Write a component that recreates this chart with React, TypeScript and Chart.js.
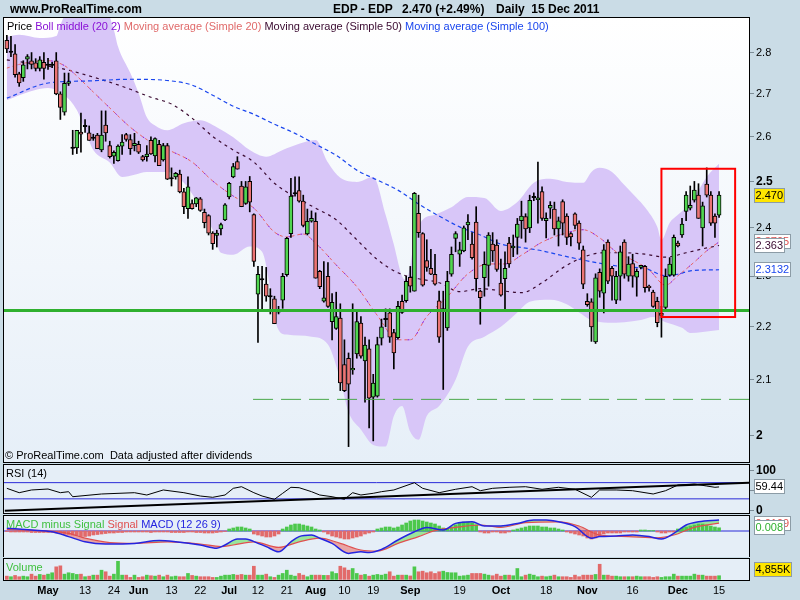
import React, { useEffect, useRef } from "react";
import { Chart, registerables } from "chart.js";

Chart.register(...registerables);

const FONT = '"Liberation Sans", Arial, Helvetica, sans-serif';

// x positions are trading-day indices, 0 = 2 May 2011
const FIRST_INDEX = -10;
const X_MIN = -10.69;
const X_MAX = 170.27;

const OPEN = [
  2.830, 2.802, 2.797, 2.748, 2.739, 2.784, 2.780, 2.775, 2.761, 2.776,
  2.770, 2.770, 2.780, 2.700, 2.657, 2.725, 2.575, 2.575, 2.611, 2.625,
  2.609, 2.598, 2.604, 2.570, 2.627, 2.580, 2.556, 2.546, 2.579, 2.605,
  2.594, 2.580, 2.583, 2.555, 2.555, 2.592, 2.557, 2.583, 2.548, 2.580,
  2.507, 2.510, 2.516, 2.477, 2.441, 2.452, 2.451, 2.462, 2.433, 2.426,
  2.389, 2.384, 2.398, 2.417, 2.466, 2.510, 2.544, 2.490, 2.452, 2.500,
  2.428, 2.264, 2.294, 2.284, 2.260, 2.255, 2.230, 2.252, 2.303, 2.388,
  2.474, 2.480, 2.457, 2.387, 2.414, 2.414, 2.310, 2.250, 2.300, 2.210,
  2.197, 2.217, 2.128, 2.140, 2.118, 2.148, 2.207, 2.135, 2.158, 2.068,
  2.070, 2.178, 2.215, 2.227, 2.189, 2.179, 2.250, 2.251, 2.298, 2.270,
  2.431, 2.388, 2.332, 2.316, 2.304, 2.251, 2.234, 2.198, 2.304, 2.378,
  2.345, 2.352, 2.406, 2.366, 2.412, 2.270, 2.297, 2.322, 2.366, 2.364,
  2.286, 2.295, 2.368, 2.358, 2.380, 2.415, 2.424, 2.400, 2.466, 2.460,
  2.478, 2.415, 2.442, 2.440, 2.398, 2.456, 2.425, 2.388, 2.430, 2.410,
  2.354, 2.250, 2.249, 2.171, 2.308, 2.266, 2.370, 2.316, 2.252, 2.300,
  2.370, 2.300, 2.326, 2.298, 2.318, 2.320, 2.280, 2.268, 2.250, 2.222,
  2.238, 2.302, 2.302, 2.368, 2.385, 2.435, 2.442, 2.459, 2.470, 2.400,
  2.494, 2.470, 2.425, 2.427,
];
const HIGH = [
  2.843, 2.840, 2.820, 2.752, 2.780, 2.795, 2.800, 2.785, 2.790, 2.800,
  2.786, 2.776, 2.800, 2.705, 2.750, 2.750, 2.615, 2.615, 2.655, 2.640,
  2.625, 2.606, 2.608, 2.660, 2.660, 2.590, 2.568, 2.582, 2.605, 2.608,
  2.605, 2.608, 2.590, 2.558, 2.580, 2.600, 2.598, 2.592, 2.585, 2.585,
  2.530, 2.520, 2.525, 2.485, 2.510, 2.460, 2.465, 2.465, 2.440, 2.428,
  2.392, 2.395, 2.410, 2.452, 2.498, 2.540, 2.555, 2.500, 2.500, 2.511,
  2.430, 2.320, 2.320, 2.318, 2.275, 2.260, 2.240, 2.306, 2.380, 2.507,
  2.510, 2.510, 2.470, 2.440, 2.436, 2.432, 2.312, 2.330, 2.328, 2.265,
  2.268, 2.245, 2.175, 2.150, 2.245, 2.234, 2.220, 2.180, 2.175, 2.110,
  2.180, 2.215, 2.235, 2.235, 2.195, 2.250, 2.262, 2.300, 2.320, 2.476,
  2.470, 2.390, 2.375, 2.355, 2.345, 2.270, 2.270, 2.310, 2.360, 2.392,
  2.370, 2.404, 2.428, 2.390, 2.445, 2.272, 2.350, 2.390, 2.390, 2.375,
  2.335, 2.350, 2.380, 2.385, 2.420, 2.457, 2.430, 2.470, 2.475, 2.543,
  2.488, 2.432, 2.456, 2.455, 2.423, 2.460, 2.430, 2.390, 2.432, 2.415,
  2.362, 2.265, 2.255, 2.305, 2.315, 2.365, 2.375, 2.320, 2.310, 2.362,
  2.375, 2.340, 2.345, 2.315, 2.322, 2.322, 2.282, 2.272, 2.258, 2.240,
  2.315, 2.338, 2.385, 2.372, 2.420, 2.478, 2.490, 2.500, 2.495, 2.455,
  2.530, 2.478, 2.430, 2.478,
];
const LOW = [
  2.800, 2.790, 2.740, 2.718, 2.730, 2.760, 2.760, 2.755, 2.755, 2.735,
  2.759, 2.763, 2.698, 2.640, 2.650, 2.720, 2.560, 2.562, 2.565, 2.610,
  2.592, 2.592, 2.573, 2.566, 2.590, 2.552, 2.540, 2.545, 2.560, 2.590,
  2.560, 2.568, 2.562, 2.545, 2.545, 2.560, 2.543, 2.535, 2.545, 2.504,
  2.490, 2.505, 2.475, 2.430, 2.420, 2.440, 2.445, 2.435, 2.400, 2.385,
  2.355, 2.360, 2.385, 2.415, 2.462, 2.508, 2.527, 2.445, 2.450, 2.434,
  2.320, 2.170, 2.230, 2.250, 2.225, 2.206, 2.225, 2.236, 2.300, 2.380,
  2.468, 2.455, 2.402, 2.385, 2.412, 2.296, 2.275, 2.248, 2.238, 2.175,
  2.195, 2.080, 2.078, 1.980, 2.110, 2.140, 2.140, 2.059, 2.013, 1.990,
  2.068, 2.165, 2.200, 2.170, 2.120, 2.176, 2.226, 2.248, 2.268, 2.270,
  2.380, 2.280, 2.310, 2.303, 2.282, 2.170, 2.082, 2.193, 2.300, 2.350,
  2.320, 2.350, 2.375, 2.335, 2.270, 2.205, 2.260, 2.280, 2.330, 2.310,
  2.260, 2.230, 2.318, 2.340, 2.345, 2.378, 2.370, 2.390, 2.458, 2.410,
  2.416, 2.379, 2.420, 2.385, 2.362, 2.385, 2.365, 2.362, 2.398, 2.355,
  2.275, 2.240, 2.172, 2.168, 2.258, 2.227, 2.285, 2.252, 2.245, 2.252,
  2.296, 2.290, 2.278, 2.260, 2.315, 2.268, 2.270, 2.238, 2.200, 2.180,
  2.232, 2.300, 2.300, 2.360, 2.380, 2.415, 2.438, 2.455, 2.420, 2.362,
  2.466, 2.405, 2.380, 2.422,
];
const CLOSE = [
  2.809, 2.802, 2.746, 2.726, 2.770, 2.790, 2.771, 2.761, 2.782, 2.761,
  2.770, 2.770, 2.700, 2.668, 2.725, 2.729, 2.575, 2.615, 2.606, 2.625,
  2.592, 2.598, 2.573, 2.604, 2.609, 2.555, 2.565, 2.579, 2.588, 2.594,
  2.573, 2.585, 2.565, 2.548, 2.561, 2.561, 2.596, 2.535, 2.580, 2.505,
  2.507, 2.518, 2.477, 2.445, 2.488, 2.441, 2.464, 2.437, 2.411, 2.389,
  2.367, 2.389, 2.407, 2.449, 2.496, 2.533, 2.527, 2.445, 2.488, 2.455,
  2.330, 2.304, 2.294, 2.260, 2.260, 2.206, 2.230, 2.300, 2.378, 2.468,
  2.474, 2.457, 2.405, 2.414, 2.420, 2.296, 2.279, 2.257, 2.240, 2.248,
  2.220, 2.094, 2.080, 2.092, 2.121, 2.210, 2.144, 2.165, 2.066, 2.094,
  2.166, 2.200, 2.215, 2.180, 2.150, 2.240, 2.228, 2.290, 2.280, 2.474,
  2.390, 2.282, 2.318, 2.304, 2.284, 2.180, 2.234, 2.290, 2.345, 2.388,
  2.354, 2.400, 2.412, 2.338, 2.295, 2.257, 2.324, 2.385, 2.352, 2.314,
  2.262, 2.316, 2.325, 2.362, 2.408, 2.425, 2.398, 2.459, 2.466, 2.464,
  2.420, 2.420, 2.448, 2.398, 2.415, 2.410, 2.380, 2.381, 2.405, 2.368,
  2.284, 2.243, 2.200, 2.297, 2.270, 2.354, 2.290, 2.300, 2.300, 2.350,
  2.304, 2.325, 2.300, 2.310, 2.322, 2.277, 2.277, 2.240, 2.208, 2.226,
  2.300, 2.325, 2.380, 2.362, 2.408, 2.470, 2.448, 2.481, 2.420, 2.447,
  2.470, 2.410, 2.410, 2.470,
];
// volume in thousands of shares
const VOLUME_K = [
  4320, 3540, 5240, 3540, 4320, 3540, 6940, 4320, 6550, 5630,
  6940, 8780, 16640, 17950, 6940, 8780, 7860, 6550, 6940, 3540,
  4320, 5630, 5630, 12180, 10090, 4320, 6940, 23970, 5630, 5630,
  2620, 5630, 2620, 3540, 5630, 4850, 4320, 5630, 3540, 5630,
  3540, 4320, 3540, 3540, 7860, 5240, 4320, 3540, 3540, 3540,
  2620, 2620, 4320, 5630, 5630, 6550, 5630, 6550, 5630, 5630,
  17420, 5630, 5630, 6940, 3540, 2620, 5630, 7860, 12180, 5630,
  4320, 7860, 5630, 3540, 5630, 5630, 5630, 5300, 5300, 10090,
  7860, 17420, 15330, 12180, 14410, 7860, 5630, 6550, 4320, 5630,
  6550, 5630, 6940, 10090, 4320, 5630, 5630, 5630, 4590, 16640,
  10090, 10870, 8780, 10090, 7860, 10090, 10870, 9170, 8780, 8780,
  4320, 4850, 5630, 7860, 7860, 7860, 6940, 5630, 4850, 6940,
  4320, 5630, 5630, 4850, 14410, 3540, 5630, 6940, 5630, 3540,
  4320, 3540, 4320, 5630, 3540, 3540, 3540, 2620, 5630, 3540,
  5630, 5630, 5630, 6550, 20040, 5630, 5630, 4320, 4320, 3540,
  3540, 3540, 3540, 4320, 3540, 3540, 3540, 2620, 3540, 2620,
  3540, 3540, 6940, 4320, 4320, 4320, 4320, 6940, 5630, 5630,
  4320, 4320, 4320, 4855,
];

// moving averages and Bollinger band (read at selected days)
const SMA20_IDX = [-10, -7, -4, 0, 4, 6, 10, 15, 20, 25, 30, 35, 40, 45, 50, 55, 58, 62, 65, 70, 75, 80, 85, 88, 92, 97, 102, 107, 111, 115, 120, 125, 130, 134, 138, 142, 146, 150, 153, 157, 160, 163];
const SMA20 = [2.762, 2.771, 2.777, 2.780, 2.768, 2.752, 2.714, 2.667, 2.622, 2.588, 2.567, 2.543, 2.501, 2.468, 2.442, 2.391, 2.381, 2.387, 2.368, 2.323, 2.279, 2.222, 2.175, 2.175, 2.220, 2.259, 2.305, 2.325, 2.325, 2.343, 2.370, 2.387, 2.396, 2.379, 2.350, 2.333, 2.313, 2.282, 2.301, 2.329, 2.352, 2.3705];
const SMA50_IDX = [-10, 0, 5, 10, 15, 20, 25, 30, 35, 40, 45, 50, 55, 60, 65, 70, 75, 80, 85, 90, 95, 100, 105, 110, 115, 120, 125, 130, 135, 140, 145, 150, 155, 160, 163];
const SMA50 = [2.782, 2.767, 2.757, 2.743, 2.728, 2.711, 2.692, 2.676, 2.643, 2.601, 2.570, 2.543, 2.496, 2.466, 2.442, 2.417, 2.375, 2.334, 2.307, 2.295, 2.287, 2.269, 2.275, 2.271, 2.267, 2.287, 2.317, 2.339, 2.348, 2.348, 2.345, 2.339, 2.348, 2.358, 2.363];
const SMA100_IDX = [-10, 0, 10, 20, 30, 35, 40, 45, 50, 55, 60, 65, 70, 75, 80, 85, 90, 95, 100, 105, 110, 115, 120, 125, 130, 135, 140, 145, 150, 153, 156, 163];
const SMA100 = [2.690, 2.726, 2.731, 2.735, 2.731, 2.721, 2.697, 2.671, 2.652, 2.629, 2.608, 2.583, 2.558, 2.525, 2.503, 2.481, 2.451, 2.425, 2.402, 2.385, 2.366, 2.359, 2.352, 2.342, 2.333, 2.325, 2.319, 2.316, 2.301, 2.304, 2.311, 2.3132];
const BB_UP_IDX = [-10, -7, -2, 2, 3, 5, 14, 16, 17, 20, 22, 24, 26, 29, 33, 37, 41, 45, 49, 53, 57, 61, 65, 68, 71, 75, 79, 82, 84, 86, 87, 88, 89, 91, 94, 98, 102, 106, 110, 114, 118, 122, 126, 130, 132, 134, 137, 140, 143, 145, 148, 149, 151, 153, 155, 158, 160, 163];
const BB_UP = [2.839, 2.844, 2.836, 2.841, 2.869, 2.906, 2.906, 2.856, 2.815, 2.750, 2.702, 2.645, 2.626, 2.615, 2.631, 2.638, 2.622, 2.599, 2.570, 2.555, 2.570, 2.584, 2.593, 2.542, 2.508, 2.499, 2.510, 2.428, 2.365, 2.300, 2.293, 2.323, 2.375, 2.417, 2.428, 2.444, 2.466, 2.464, 2.436, 2.455, 2.497, 2.506, 2.499, 2.497, 2.521, 2.530, 2.521, 2.492, 2.464, 2.444, 2.402, 2.375, 2.411, 2.428, 2.444, 2.481, 2.510, 2.539];
const BB_LO_IDX = [-10, -7, 0, 4, 7, 9, 11, 15, 18, 21, 24, 29, 33, 37, 40, 42, 45, 49, 52, 56, 58, 64, 68, 71, 73, 76, 79, 82, 84, 86, 88, 90, 92, 95, 99, 102, 106, 110, 114, 117, 122, 126, 129, 132, 136, 140, 144, 147, 150, 152, 154, 156, 159, 163];
const BB_LO = [2.685, 2.697, 2.714, 2.697, 2.662, 2.615, 2.570, 2.542, 2.510, 2.515, 2.521, 2.521, 2.497, 2.444, 2.396, 2.348, 2.344, 2.361, 2.350, 2.194, 2.185, 2.181, 2.166, 2.100, 2.041, 2.010, 1.983, 1.980, 2.034, 2.052, 2.006, 1.992, 2.034, 2.052, 2.100, 2.162, 2.181, 2.200, 2.228, 2.249, 2.253, 2.244, 2.228, 2.213, 2.208, 2.209, 2.213, 2.219, 2.209, 2.204, 2.198, 2.188, 2.190, 2.194];

// drawn objects on the price panel
const SUPPORT_LEVEL = 2.232;
const DASHED_LEVEL = 2.064;
const DASHED_FROM = 49.8;
const BOX_X = [149.0, 166.9];
const BOX_Y = [2.219, 2.528];

// RSI
const RSI_IDX = [-10, -7, -4, 0, 3, 5, 6, 13, 21, 24, 28, 33, 37, 40, 43, 45, 47, 50, 52, 55, 57, 59, 61, 64, 66, 69, 72, 74, 76, 79, 81, 84, 89, 91, 95, 99, 103, 105, 108, 112, 116, 120, 124, 128, 132, 134, 138, 142, 147, 150, 153, 157, 160, 162, 163];
const RSI = [56.0, 45.2, 51.9, 54.3, 45.2, 47.7, 35.3, 42.0, 45.2, 39.5, 51.9, 45.2, 37.0, 33.8, 39.5, 56.0, 60.0, 45.2, 37.0, 28.9, 43.7, 58.5, 57.5, 47.7, 39.5, 35.3, 28.9, 45.2, 39.5, 43.7, 47.7, 51.9, 69.9, 56.0, 45.2, 53.6, 60.0, 50.1, 56.0, 58.5, 60.0, 53.6, 58.5, 53.6, 33.8, 51.9, 51.9, 50.1, 42.0, 50.1, 64.2, 66.7, 61.7, 58.5, 59.44];
const RSI_TREND_IDX = [-10.5, 170.27];
const RSI_TREND = [0.7, 69.9];
const RSI_LEVELS = [70, 30];
const RSI_TICKS = [0, 50, 100];

// MACD (12 26 9)
const MACD_IDX = [-10, -4, 1, 5, 9, 14, 21, 27, 31, 37, 41, 43, 46, 48, 51, 53, 56, 59, 61, 64, 66, 69, 73, 76, 78, 81, 85, 89, 92, 96, 99, 103, 106, 110, 114, 118, 121, 124, 128, 132, 134, 138, 142, 146, 149, 152, 155, 158, 163];
const MACD = [0.007, 0.0025, -0.002, -0.014, -0.027, -0.0325, -0.031, -0.024, -0.027, -0.035, -0.043, -0.035, -0.020, -0.020, -0.031, -0.039, -0.052, -0.027, -0.014, -0.010, -0.018, -0.031, -0.056, -0.052, -0.054, -0.046, -0.0225, -0.002, 0.009, 0.0025, 0.019, 0.023, 0.0125, 0.0125, 0.019, 0.0275, 0.0275, 0.023, 0.011, -0.018, -0.014, -0.0125, -0.010, -0.014, -0.020, -0.006, 0.015, 0.023, 0.0275];
const SIGNAL_IDX = [-10, 5, 9, 15, 21, 29, 37, 42, 45, 50, 56, 61, 66, 71, 76, 80, 85, 90, 94, 99, 105, 110, 116, 124, 129, 134, 141, 148, 152, 157, 163];
const SIGNAL = [0.004, -0.006, -0.018, -0.029, -0.031, -0.027, -0.0325, -0.039, -0.035, -0.027, -0.041, -0.027, -0.018, -0.031, -0.0475, -0.050, -0.031, -0.014, 0.001, 0.009, 0.015, 0.009, 0.021, 0.023, 0.0125, -0.010, -0.014, -0.017, -0.010, 0.009, 0.0199];
const HIST = [
  -0.0013, -0.0025, -0.0025, -0.0025, -0.0025, -0.0025, -0.0038, -0.0038, -0.0038, -0.0038,
  -0.0038, -0.0038, -0.005, -0.0063, -0.0075, -0.0088, -0.01, -0.0113, -0.0138, -0.0138, -0.0125, -0.01, -0.0088,
  -0.0075, -0.0063, -0.005, -0.005, -0.0038, -0.0038, -0.0025, -0.0025,
  -0.0025, -0.0025, -0.0025, -0.0025, -0.0038, -0.0025, -0.0025, -0.0025, -0.0025, -0.0038, -0.0038, -0.0038, -0.0038, -0.0025, -0.0025, -0.0038, -0.0038, -0.005, -0.005, -0.005, -0.0038, -0.0025, -0.0013,
  0.005, 0.0075, 0.01, 0.01, 0.0075, 0.005,
  -0.0075, -0.01, -0.0125, -0.015, -0.015, -0.0125, -0.0075,
  0.005, 0.01, 0.015, 0.0175, 0.0175, 0.015, 0.0125, 0.01, 0.005, 0.0025,
  -0.0025, -0.0075, -0.0125, -0.015, -0.0175, -0.02, -0.02, -0.0175, -0.015, -0.0125, -0.0075, -0.005, -0.0025,
  0.005, 0.0075, 0.01, 0.01, 0.0075,
  0.01, 0.015, 0.02, 0.025, 0.0275, 0.0275, 0.025, 0.0225, 0.02, 0.0175, 0.0125, 0.0075,
  0.005, 0.01, 0.015, 0.02, 0.0225, 0.0225, 0.02, 0.015,
  -0.0025, -0.005, -0.005, -0.0025, -0.0025, -0.005, -0.005, -0.0025,
  0.0025, 0.005, 0.0075, 0.01, 0.0125, 0.0125, 0.0125, 0.01, 0.01, 0.0075, 0.0075, 0.005, 0.0025,
  -0.0025, -0.005, -0.0075, -0.01, -0.0125, -0.0175, -0.02, -0.0175, -0.0125, -0.0075, -0.005,
  -0.005, -0.005, -0.005, -0.0025, -0.0025, -0.0025, -0.0025,
  0.0025, 0.0025, 0.0013, 0.0013,
  -0.0025, -0.005, -0.005, -0.0025, -0.0025,
  0.005, 0.0075, 0.01, 0.0125, 0.015, 0.0175, 0.0175, 0.015, 0.0125, 0.01, 0.008,
];

// axes
const X_TICK_IDX = [0, 9, 16, 22, 30, 37, 44, 51, 58, 65, 72, 79, 88, 100, 110, 121, 131, 142, 153, 163];
const X_TICK_LABELS = ["May", "13", "24", "Jun", "13", "22", "Jul", "12", "21", "Aug", "10", "19", "Sep", "19", "Oct", "18", "Nov", "16", "Dec", "15"];
const MONTHS = new Set(["May", "Jun", "Jul", "Aug", "Sep", "Oct", "Nov", "Dec"]);
const PRICE_TICKS = [2, 2.1, 2.2, 2.3, 2.4, 2.5, 2.6, 2.7, 2.8];
const PRICE_TICK_LABELS = ["2", "2.1", "2.2", "2.3", "2.4", "2.5", "2.6", "2.7", "2.8"];
const BOLD_PRICE = new Set(["2", "2.5"]);

const Y_MIN = 1.9534;
const Y_MAX = 2.8864;

const UP = "#50d650";
const DOWN = "#ec7474";
const VOL_UP = "#4cc84c";
const VOL_DOWN = "#e26a6a";
const BAND = "#d8c6f8";
const PANEL_BG = "#e5eef7";
const OUTER_BG = "#cadce6";

const zip = (xs: number[], ys: number[]) => xs.map((x, k) => ({ x, y: ys[k] }));
const last = (a: number[]) => a[a.length - 1];
const candleIdx = CLOSE.map((_, k) => FIRST_INDEX + k);

type Box = { value: number; text: string; color: string; bg: string; dy?: number; clamp?: boolean };

function decor(cfg: { gradient?: boolean; boxes: Box[]; rect?: boolean }) {
  return {
    id: "decor",
    beforeDraw(chart: any) {
      const { ctx, chartArea: a } = chart;
      ctx.save();
      if (cfg.gradient) {
        const g = ctx.createLinearGradient(0, a.top, 0, a.bottom);
        g.addColorStop(0, "#ffffff");
        g.addColorStop(1, "#e6eff8");
        ctx.fillStyle = g;
      } else {
        ctx.fillStyle = PANEL_BG;
      }
      ctx.fillRect(a.left, a.top, a.right - a.left, a.bottom - a.top);
      ctx.restore();
    },
    afterDatasetsDraw(chart: any) {
      if (!cfg.rect) return;
      const { ctx, scales } = chart;
      const x0 = scales.x.getPixelForValue(BOX_X[0]);
      const x1 = scales.x.getPixelForValue(BOX_X[1]);
      const y0 = scales.y.getPixelForValue(BOX_Y[1]);
      const y1 = scales.y.getPixelForValue(BOX_Y[0]);
      ctx.save();
      ctx.strokeStyle = "#ff0000";
      ctx.lineWidth = 2;
      ctx.strokeRect(x0, y0, x1 - x0, y1 - y0);
      ctx.restore();
    },
    afterDraw(chart: any) {
      const { ctx, chartArea: a, scales } = chart;
      ctx.save();
      ctx.strokeStyle = "#000";
      ctx.lineWidth = 1;
      ctx.strokeRect(a.left - 0.5, a.top - 0.5, a.right - a.left + 1, a.bottom - a.top + 1);
      ctx.font = `11px ${FONT}`;
      for (const b of cfg.boxes) {
        let y = scales.y.getPixelForValue(b.value) + (b.dy || 0);
        if (b.clamp) y = Math.max(a.top + 8, Math.min(a.bottom - 11, y));
        const tw = ctx.measureText(b.text).width;
        const x0 = 754;
        const w = Math.round(tw + 3);
        const top = Math.round(y - 7.5);
        ctx.fillStyle = b.bg;
        ctx.fillRect(x0, top, w, 15);
        ctx.strokeStyle = "#8c9ca6";
        ctx.strokeRect(x0 + 0.5, top + 0.5, w - 1, 14);
        ctx.fillStyle = b.color;
        ctx.textBaseline = "middle";
        ctx.textAlign = "left";
        ctx.fillText(b.text, x0 + 1.5, top + 8);
      }
      ctx.restore();
    },
  };
}

// keep the plot area fixed: right axis 51px wide, no label overflow padding
const fixAxis = (s: any) => {
  s.width = 51;
  s.paddingTop = 0;
  s.paddingBottom = 0;
};

function xScale(show: boolean) {
  const s: any = {
    type: "linear",
    min: X_MIN,
    max: X_MAX,
    offset: false,
    display: show,
    grid: { display: false, drawTicks: false },
    border: { display: false },
  };
  if (show) {
    s.afterBuildTicks = (sc: any) => {
      sc.ticks = X_TICK_IDX.map((v) => ({ value: v }));
    };
    s.afterFit = (sc: any) => {
      sc.height = 20;
      sc.paddingLeft = 0;
      sc.paddingRight = 0;
    };
    s.ticks = {
      autoSkip: false,
      maxRotation: 0,
      padding: 4,
      color: "#000",
      font: (c: any) => ({ family: FONT, size: 11, weight: MONTHS.has(X_TICK_LABELS[c.index]) ? "bold" : "normal" }),
      callback: (_v: any, i: number) => X_TICK_LABELS[i],
    };
  }
  return s;
}

function hiddenY(min: number, max: number) {
  return {
    type: "linear",
    position: "right",
    min,
    max,
    afterFit: fixAxis,
    grid: { display: false, drawTicks: false },
    border: { display: false },
    ticks: { display: false },
  };
}

function baseOptions(padding: any, scales: any) {
  return {
    responsive: false,
    animation: false,
    devicePixelRatio: 1,
    events: [],
    layout: { padding },
    plugins: { legend: { display: false }, tooltip: { enabled: false }, filler: { drawTime: "beforeDatasetsDraw" } },
    scales,
  };
}

function mainChart(canvas: HTMLCanvasElement) {
  const body = candleIdx.map((x, k) => {
    const lo = Math.min(OPEN[k], CLOSE[k]);
    const hi = Math.max(OPEN[k], CLOSE[k]);
    return { x, y: lo === hi ? [lo * 0.9994, hi * 1.0006] : [lo, hi] };
  });
  const bodyColor = candleIdx.map((_, k) => (OPEN[k] === CLOSE[k] ? "#000" : CLOSE[k] > OPEN[k] ? UP : DOWN));
  const wick = candleIdx.map((x, k) => ({ x, y: [LOW[k], HIGH[k]] }));
  const noLine = "rgba(0,0,0,0)";
  return new Chart(canvas, {
    type: "line",
    data: {
      datasets: [
        { type: "line", data: zip(BB_UP_IDX, BB_UP), borderColor: noLine, borderWidth: 0, pointRadius: 0, fill: false, cubicInterpolationMode: "monotone", order: 10 },
        { type: "line", data: zip(BB_LO_IDX, BB_LO), borderColor: noLine, borderWidth: 0, pointRadius: 0, fill: "-1", backgroundColor: BAND, cubicInterpolationMode: "monotone", order: 10 },
        { type: "line", data: zip(SMA100_IDX, SMA100), borderColor: "#1a46ee", borderWidth: 1.2, borderDash: [4, 3], pointRadius: 0, cubicInterpolationMode: "monotone", order: 6 },
        { type: "line", data: zip(SMA50_IDX, SMA50), borderColor: "#3a0a30", borderWidth: 1.2, borderDash: [3, 4], pointRadius: 0, cubicInterpolationMode: "monotone", order: 6 },
        { type: "line", data: zip(SMA20_IDX, SMA20), borderColor: "#e86464", borderWidth: 1, borderDash: [3, 3], pointRadius: 0, cubicInterpolationMode: "monotone", order: 5 },
        { type: "line", data: zip(SMA20_IDX, SMA20), borderColor: "#8a12d6", borderWidth: 1, borderDash: [2, 10], borderDashOffset: 3, pointRadius: 0, cubicInterpolationMode: "monotone", order: 5 },
        { type: "bar", data: wick, backgroundColor: "#000", borderWidth: 0, barThickness: 1, grouped: false, order: 3 },
        { type: "bar", data: body, backgroundColor: bodyColor, borderColor: "#000", borderWidth: 1, borderSkipped: false, barThickness: 4, grouped: false, order: 2 },
        { type: "line", data: [{ x: X_MIN, y: SUPPORT_LEVEL }, { x: X_MAX, y: SUPPORT_LEVEL }], borderColor: "#2fb02f", borderWidth: 3, pointRadius: 0, order: 1 },
        { type: "line", data: [{ x: DASHED_FROM, y: DASHED_LEVEL }, { x: X_MAX, y: DASHED_LEVEL }], borderColor: "#4aa84a", borderWidth: 1, borderDash: [20, 8], pointRadius: 0, order: 1 },
      ] as any,
    },
    options: baseOptions({ left: 4, top: 18, bottom: 1, right: 0 }, {
      x: xScale(false),
      y: {
        type: "logarithmic",
        position: "right",
        min: Y_MIN,
        max: Y_MAX,
        afterBuildTicks: (s: any) => {
          s.ticks = PRICE_TICKS.map((v) => ({ value: v }));
        },
        afterFit: fixAxis,
        grid: { display: true, drawOnChartArea: false, drawTicks: true, tickLength: 5, color: "#7d8d97" },
        border: { display: false },
        ticks: {
          autoSkip: false,
          padding: 2,
          color: "#000",
          font: (c: any) => {
            const b = BOLD_PRICE.has(PRICE_TICK_LABELS[c.index]);
            return { family: FONT, size: b ? 12 : 11, weight: b ? "bold" : "normal" };
          },
          callback: (_v: any, i: number) => PRICE_TICK_LABELS[i],
        },
      },
    }) as any,
    plugins: [
      decor({
        gradient: true,
        rect: true,
        boxes: [
          { value: last(SMA20), text: last(SMA20).toFixed(4), color: "#e05050", bg: "#fff" },
          { value: last(SMA50), text: last(SMA50).toFixed(3), color: "#3a0a30", bg: "#fff" },
          { value: last(SMA100), text: last(SMA100).toFixed(4), color: "#1a46ee", bg: "#fff" },
          { value: last(CLOSE), text: last(CLOSE).toFixed(3), color: "#000", bg: "#ffe600" },
        ],
      }) as any,
    ],
  });
}

function rsiChart(canvas: HTMLCanvasElement) {
  const datasets: any[] = RSI_LEVELS.map((lv) => ({
    type: "line",
    data: [{ x: X_MIN, y: lv }, { x: X_MAX, y: lv }],
    borderColor: "#2a2ad8",
    borderWidth: 1,
    pointRadius: 0,
    order: 3,
  }));
  datasets.push({ type: "line", data: zip(RSI_TREND_IDX, RSI_TREND), borderColor: "#000", borderWidth: 2, pointRadius: 0, order: 2 });
  datasets.push({ type: "line", data: zip(RSI_IDX, RSI), borderColor: "#000", borderWidth: 1, pointRadius: 0, order: 1 });
  return new Chart(canvas, {
    type: "line",
    data: { datasets },
    options: baseOptions({ left: 4, top: 2, bottom: 1, right: 0 }, {
      x: xScale(false),
      y: {
        type: "linear",
        position: "right",
        min: -4.94,
        max: 113.6,
        afterBuildTicks: (s: any) => {
          s.ticks = RSI_TICKS.map((v) => ({ value: v }));
        },
        afterFit: fixAxis,
        grid: { display: true, drawOnChartArea: false, drawTicks: true, tickLength: 5, color: "#7d8d97" },
        border: { display: false },
        ticks: {
          autoSkip: false,
          padding: 2,
          color: "#000",
          font: (c: any) => ({ family: FONT, size: c.index === 1 ? 11 : 12, weight: c.index === 1 ? "normal" : "bold" }),
          callback: (v: any) => String(v),
        },
      },
    }) as any,
    plugins: [decor({ boxes: [{ value: last(RSI), text: last(RSI).toFixed(2), color: "#000", bg: "#fff" }] }) as any],
  });
}

function macdChart(canvas: HTMLCanvasElement) {
  const hist = candleIdx.map((x, k) => ({ x, y: HIST[k] }));
  const histColor = HIST.map((v) => (v >= 0 ? VOL_UP : VOL_DOWN));
  return new Chart(canvas, {
    type: "line",
    data: {
      datasets: [
        { type: "line", data: [{ x: X_MIN, y: 0 }, { x: X_MAX, y: 0 }], borderColor: "#2a2ad8", borderWidth: 1, pointRadius: 0, order: 4 },
        { type: "bar", data: hist, backgroundColor: histColor, borderWidth: 0, barThickness: 3, grouped: false, order: 3 },
        {
          type: "line",
          data: zip(MACD_IDX, MACD),
          borderColor: "#2424e0",
          borderWidth: 1.5,
          pointRadius: 0,
          cubicInterpolationMode: "monotone",
          fill: { target: "+1", above: "rgba(150,228,150,0.95)", below: "rgba(232,160,160,0.95)" },
          order: 1,
        },
        { type: "line", data: zip(SIGNAL_IDX, SIGNAL), borderColor: "#e05050", borderWidth: 1.2, pointRadius: 0, cubicInterpolationMode: "monotone", order: 2 },
      ] as any,
    },
    options: baseOptions({ left: 4, top: 2, bottom: 0, right: 0 }, { x: xScale(false), y: hiddenY(-0.065, 0.0375) }) as any,
    plugins: [
      decor({
        boxes: [
          { value: last(SIGNAL), text: last(SIGNAL).toFixed(4), color: "#e05050", bg: "#fff" },
          { value: last(HIST), text: last(HIST).toFixed(3), color: "#30b030", bg: "#fff" },
        ],
      }) as any,
    ],
  });
}

function volumeChart(canvas: HTMLCanvasElement) {
  const vol = candleIdx.map((x, k) => ({ x, y: VOLUME_K[k] }));
  const volColor = candleIdx.map((_, k) => (CLOSE[k] >= OPEN[k] ? VOL_UP : VOL_DOWN));
  return new Chart(canvas, {
    type: "line",
    data: {
      datasets: [{ type: "bar", data: vol, backgroundColor: volColor, borderWidth: 0, barThickness: 3, grouped: false }] as any,
    },
    options: baseOptions({ left: 4, top: 2, bottom: 0, right: 0 }, { x: xScale(true), y: hiddenY(-800, 27000) }) as any,
    plugins: [
      decor({
        boxes: [{ value: last(VOLUME_K), text: `${last(VOLUME_K).toLocaleString("en-US")}K`, color: "#000", bg: "#ffe600", clamp: true }],
      }) as any,
    ],
  });
}

const abs = (left: number, top: number, extra: any = {}) => ({ position: "absolute" as const, left, top, whiteSpace: "pre" as const, ...extra });
const small = { font: `11px ${FONT}`, lineHeight: "12px" };
const header = { font: `bold 12px ${FONT}`, lineHeight: "14px", color: "#000" };

export default function App() {
  const mainRef = useRef<HTMLCanvasElement>(null);
  const rsiRef = useRef<HTMLCanvasElement>(null);
  const macdRef = useRef<HTMLCanvasElement>(null);
  const volRef = useRef<HTMLCanvasElement>(null);

  useEffect(() => {
    const charts: Chart[] = [];
    if (mainRef.current) charts.push(mainChart(mainRef.current));
    if (rsiRef.current) charts.push(rsiChart(rsiRef.current));
    if (macdRef.current) charts.push(macdChart(macdRef.current));
    if (volRef.current) charts.push(volumeChart(volRef.current));
    return () => charts.forEach((c) => c.destroy());
  }, []);

  const cv = (top: number, height: number) => ({ position: "absolute" as const, left: 0, top, width: 800, height });

  return (
    <div style={{ position: "absolute", left: 0, top: 0, width: 800, height: 600, background: OUTER_BG, overflow: "hidden", fontFamily: FONT }}>
      <canvas ref={mainRef} width={800} height={463} style={cv(0, 463)} />
      <canvas ref={rsiRef} width={800} height={51} style={cv(463, 51)} />
      <canvas ref={macdRef} width={800} height={43} style={cv(514, 43)} />
      <canvas ref={volRef} width={800} height={43} style={cv(557, 43)} />

      <div style={abs(10, 2, header)}>www.ProRealTime.com</div>
      <div style={abs(333, 2, header)}>EDP - EDP</div>
      <div style={abs(402, 2, header)}>2.470 (+2.49%)</div>
      <div style={abs(496, 2, header)}>Daily  15 Dec 2011</div>

      <div style={abs(7, 19.5, small)}>
        <span style={{ color: "#000" }}>Price </span>
        <span style={{ color: "#8a12d6" }}>Boll middle (20 2) </span>
        <span style={{ color: "#e06a6a" }}>Moving average (Simple 20) </span>
        <span style={{ color: "#3a0a30" }}>Moving average (Simple 50) </span>
        <span style={{ color: "#1a46ee" }}>Moving average (Simple 100)</span>
      </div>
      <div style={abs(5, 449.2, { ...small, color: "#000" })}>© ProRealTime.com  Data adjusted after dividends</div>
      <div style={abs(6, 467, { ...small, color: "#000" })}>RSI (14)</div>
      <div style={abs(6, 517.7, small)}>
        <span style={{ color: "#40c040" }}>MACD minus Signal </span>
        <span style={{ color: "#e05050" }}>Signal </span>
        <span style={{ color: "#2424e0" }}>MACD (12 26 9)</span>
      </div>
      <div style={abs(6, 561.2, { ...small, color: "#40c040" })}>Volume</div>
    </div>
  );
}
